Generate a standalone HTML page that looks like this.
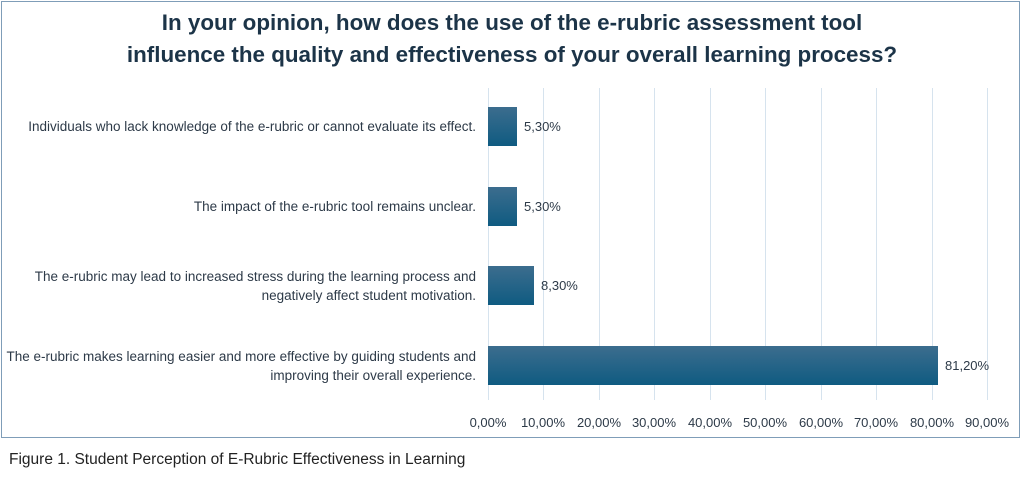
<!DOCTYPE html>
<html><head><style>
body{margin:0;width:1024px;height:479px;background:#fff;font-family:"Liberation Sans",sans-serif;position:relative;overflow:hidden}
.box{position:absolute;left:1px;top:1px;width:1019px;height:437px;border:1px solid #7f9db8;box-sizing:border-box}
.t{position:absolute;left:0;width:1024px;text-align:center;font-weight:bold;font-size:22.4px;color:#1c3448;line-height:32px}
.lab{position:absolute;right:548px;text-align:right;font-size:13.5px;color:#2d3a48;line-height:19px;white-space:nowrap}
.grid{position:absolute;top:88px;height:312px;width:1px;background:#d6e3ee}
.bar{position:absolute;left:488px;height:39px;background:linear-gradient(#3c6d8e,#0f5b81)}
.v{position:absolute;font-size:13px;color:#2d3a48}
.tk{position:absolute;top:415px;font-size:13px;color:#2d3a48;width:70px;text-align:center}
.cap{position:absolute;left:9px;top:451px;font-size:15.5px;color:#222}
</style></head><body>
<div class="box"></div>
<div class="t" style="top:7px">In your opinion, how does the use of the e-rubric assessment tool</div>
<div class="t" style="top:39px">influence the quality and effectiveness of your overall learning process?</div>
<div class="grid" style="left:488px"></div><div class="grid" style="left:543px"></div><div class="grid" style="left:599px"></div><div class="grid" style="left:654px"></div><div class="grid" style="left:710px"></div><div class="grid" style="left:765px"></div><div class="grid" style="left:821px"></div><div class="grid" style="left:876px"></div><div class="grid" style="left:932px"></div><div class="grid" style="left:987px"></div>
<div class="bar" style="top:107px;width:29px"></div>
<div class="bar" style="top:187px;width:29px"></div>
<div class="bar" style="top:266px;width:46px"></div>
<div class="bar" style="top:346px;width:450px"></div>
<div class="v" style="left:524px;top:119px">5,30%</div>
<div class="v" style="left:524px;top:199px">5,30%</div>
<div class="v" style="left:541px;top:278px">8,30%</div>
<div class="v" style="left:945px;top:358px">81,20%</div>
<div class="lab" style="top:117px">Individuals who lack knowledge of the e-rubric or cannot evaluate its effect.</div>
<div class="lab" style="top:197px">The impact of the e-rubric tool remains unclear.</div>
<div class="lab" style="top:267px">The e-rubric may lead to increased stress during the learning process and<br>negatively affect student motivation.</div>
<div class="lab" style="top:347px">The e-rubric makes learning easier and more effective by guiding students and<br>improving their overall experience.</div>
<div class="tk" style="left:453px">0,00%</div><div class="tk" style="left:508px">10,00%</div><div class="tk" style="left:564px">20,00%</div><div class="tk" style="left:619px">30,00%</div><div class="tk" style="left:675px">40,00%</div><div class="tk" style="left:730px">50,00%</div><div class="tk" style="left:786px">60,00%</div><div class="tk" style="left:841px">70,00%</div><div class="tk" style="left:897px">80,00%</div><div class="tk" style="left:952px">90,00%</div>
<div class="cap">Figure 1. Student Perception of E-Rubric Effectiveness in Learning</div>
</body></html>
